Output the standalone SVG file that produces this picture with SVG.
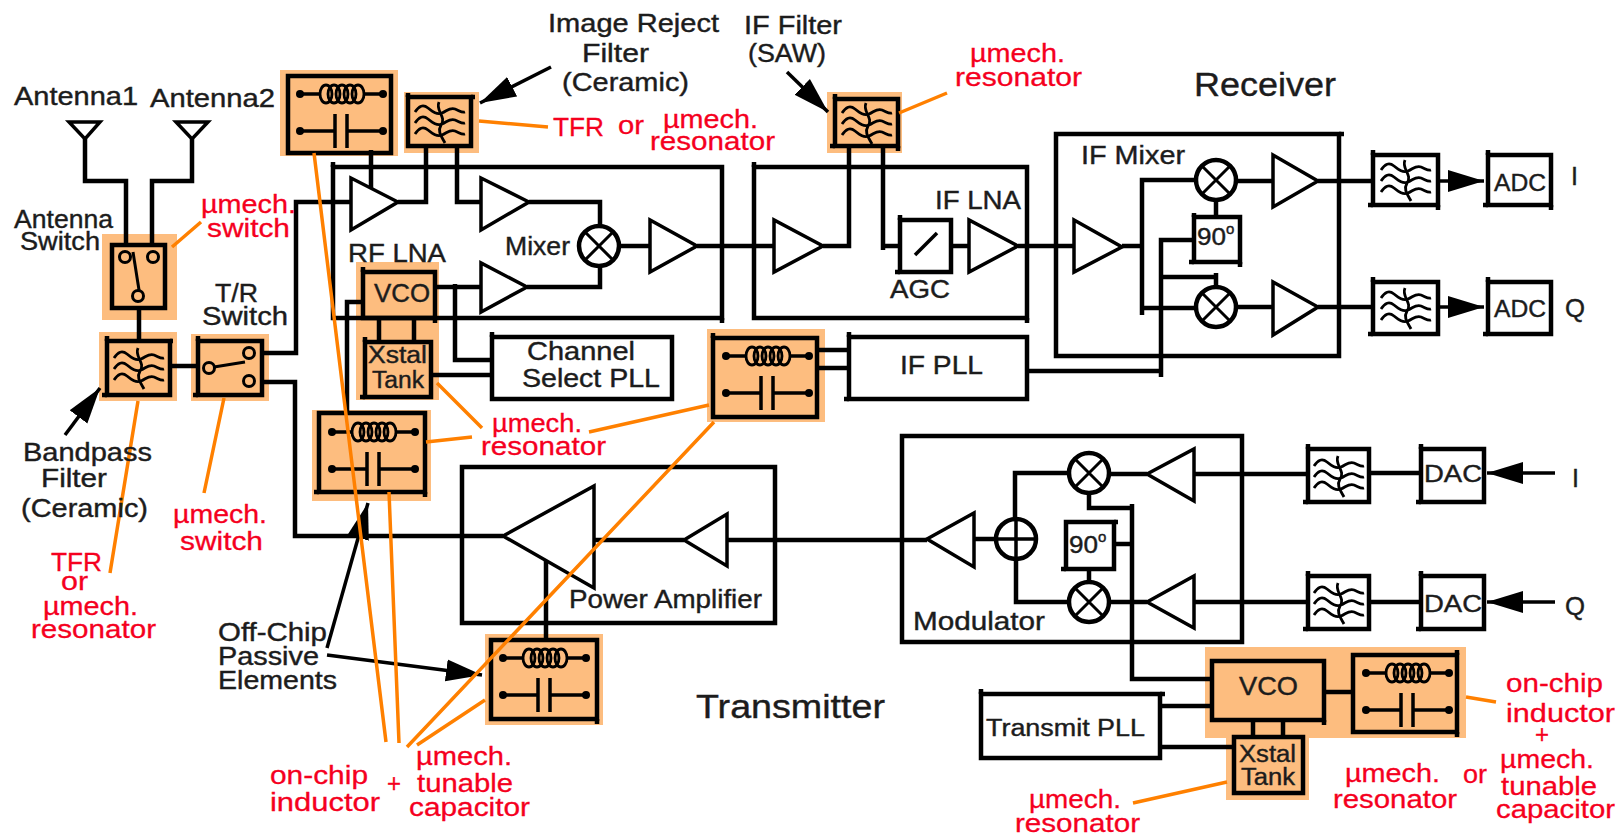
<svg xmlns="http://www.w3.org/2000/svg" width="1621" height="835" viewBox="0 0 1621 835">
<style>
.pad{fill:#fdbd7f;stroke:none}
.b{fill:none;stroke:#000;stroke-width:4.5;stroke-linejoin:miter}
.c{fill:none;stroke:#000;stroke-width:3}
.w{fill:#fff;stroke:#000;stroke-width:4.5}
.tri{fill:#fff;stroke:#000;stroke-width:3.5;stroke-linejoin:miter}
.ant{fill:none;stroke:#000;stroke-width:3.5}
.wire{fill:none;stroke:#000;stroke-width:4.5;stroke-linejoin:miter}
.thin{fill:none;stroke:#000;stroke-width:3}
.arr{fill:none;stroke:#000;stroke-width:3.5}
.lead{fill:none;stroke:#ff8000;stroke-width:3.5}
.sym{fill:none;stroke:#000;stroke-width:2.8}
.symw{fill:none;stroke:#000;stroke-width:3.5}
.dot{fill:#000}
text{font-family:"Liberation Sans",Arial,sans-serif;font-size:25px;fill:#1c1c1c;stroke:#1c1c1c;stroke-width:.4}
.r{fill:#f5001e;stroke:#f5001e;font-size:26px;stroke-width:.3}
.big{font-size:34px}
.s{font-size:23px}
.sup{font-size:15px}
</style>
<defs>
<marker id="ah" markerUnits="userSpaceOnUse" markerWidth="38" markerHeight="24" refX="36" refY="12" orient="auto"><path d="M0 1L36 12L0 23z" fill="#000"/></marker>
<g id="waves">
<path id="wave" class="sym" d="M7 15c4-6 8-8 13-4s9 7 14 5 8-6 13-4 7 4 10 3"/>
<use href="#wave" y="11"/><use href="#wave" y="22"/>
<path class="sym" d="M31 5C27 14 39 20 33 28 29 35 34 40 37 46"/>
</g>
<g id="lc">
<path class="symw" d="M12 18H32M76 18H95M12 55H47M59 55H95M47 38V72M59 38V72"/>
<circle class="dot" cx="12" cy="18" r="4"/><circle class="dot" cx="95" cy="18" r="4"/>
<circle class="dot" cx="12" cy="55" r="4"/><circle class="dot" cx="95" cy="55" r="4"/>
<ellipse class="sym" cx="38" cy="18" rx="6" ry="9"/><ellipse class="sym" cx="46" cy="18" rx="6" ry="9"/><ellipse class="sym" cx="54" cy="18" rx="6" ry="9"/><ellipse class="sym" cx="62" cy="18" rx="6" ry="9"/><ellipse class="sym" cx="70" cy="18" rx="6" ry="9"/>
</g>
<g id="mix"><circle class="w" r="20"/><path class="c" d="M-14-14L14 14M-14 14L14-14"/></g>
</defs>
<rect width="1621" height="835" fill="#fff"/>

<g id="pads">
<rect class="pad" x="102" y="234" width="75" height="86"/>
<rect class="pad" x="99" y="332" width="78" height="69"/>
<rect class="pad" x="191" y="334" width="78" height="67"/>
<rect class="pad" x="280" y="70" width="118" height="86"/>
<rect class="pad" x="404" y="92" width="75" height="61"/>
<rect class="pad" x="827" y="92" width="75" height="61"/>
<rect class="pad" x="356" y="262" width="83" height="138"/>
<rect class="pad" x="707" y="329" width="118" height="93"/>
<rect class="pad" x="312" y="410" width="119" height="91"/>
<rect class="pad" x="485" y="634" width="118" height="91"/>
<rect class="pad" x="1205" y="647" width="261" height="91"/>
<rect class="pad" x="1226" y="738" width="83" height="62"/>
</g>

<g id="connectors">
<path class="wire" d="M85 139V181H126V247M192 139V181H152V247M139 308V341M170 366H198"/>
<path class="wire" d="M262 353H296V202H350M262 382H295V536H503"/>
<path class="wire" d="M371 150V190M426 146V202H398M457 146V202H481"/>
<path class="wire" d="M529 202H600V226M435 287H481M527 287H600V266"/>
<path class="wire" d="M455 284V360H492M431 375H492M362 302H347V413M379 318V342M414 318V342"/>
<path class="wire" d="M619 246H650M697 246H774M823 246H849V146M883 146V250M883 246H900M951 246H969M1018 246H1074"/>
<path class="wire" d="M817 350H849M817 368H849M1027 371H1161"/>
<path class="wire" d="M1122 246H1142M1142 315V180H1196M1142 308H1196M1161 377V240H1194M1161 277H1216V273M1216 273V287M1216 200V217M1236 181H1273M1318 181H1373M1236 307H1273M1318 307H1373"/>
<path class="wire" d="M594 540H684M727 540H927M974 539H996M1015 519V473H1069M1016 559V602H1069M1109 474H1147M1109 602H1147M1194 474H1308M1194 602H1308"/>
<path class="wire" d="M1089 493V508H1132M1132 504V679H1212M1114 544H1132M1089 569V582M1369 473H1421M1369 602H1421"/>
<path class="wire" d="M546 560V640M1324 692H1353M1160 706H1212M1160 747H1234M1253 720V737M1283 720V737"/>
<path class="arr" d="M1438 181H1484" marker-end="url(#ah)"/>
<path class="arr" d="M1438 307H1484" marker-end="url(#ah)"/>
<path class="arr" d="M1555 473H1487" marker-end="url(#ah)"/>
<path class="arr" d="M1555 602H1487" marker-end="url(#ah)"/>
<path class="arr" d="M551 67L480 103" marker-end="url(#ah)"/>
<path class="arr" d="M787 72L828 112" marker-end="url(#ah)"/>
<path class="arr" d="M65 435L100 388" marker-end="url(#ah)"/>
<path class="arr" d="M327 648L368 503" marker-end="url(#ah)"/>
<path class="arr" d="M327 655L482 675" marker-end="url(#ah)"/>
</g>

<g id="antenna1"><path class="ant" d="M69 122H100L85 139z"/></g>
<g id="antenna2"><path class="ant" d="M176 122H208L192 139z"/></g>
<g id="antenna-switch"><rect class="b" x="112" y="245" width="53" height="63"/><circle class="c" cx="125" cy="257" r="5.5"/><circle class="c" cx="153" cy="257" r="5.5"/><circle class="c" cx="138" cy="296" r="5.5"/><path class="thin" d="M133 252L139 290"/></g>
<g id="bandpass-filter"><rect class="b" x="107" y="341" width="63" height="54"/><path class="wire" d="M107 336V341M102 395H107M170 341H173"/><use href="#waves" transform="translate(107,343)"/></g>
<g id="tr-switch"><rect class="b" x="198" y="341" width="64" height="54"/><path class="wire" d="M198 336V341M193 395H198"/><circle class="c" cx="209" cy="368" r="5.5"/><circle class="c" cx="249" cy="353" r="5.5"/><circle class="c" cx="249" cy="381" r="5.5"/><path class="thin" d="M214 367L245 362"/></g>
<g id="lc-top"><rect class="b" x="288" y="76" width="103" height="77"/><use href="#lc" transform="translate(288,76)"/></g>
<g id="image-filter"><rect class="b" x="408" y="97" width="63" height="49"/><path class="wire" d="M408 93V97M471 97H475"/><use href="#waves" transform="translate(408,97)"/></g>
<g id="if-filter"><rect class="b" x="835" y="99" width="63" height="47"/><path class="wire" d="M835 94V99M830 146H835M898 146V151"/><use href="#waves" transform="translate(835,98)"/></g>
<g id="rf-section"><rect class="b" x="333" y="167" width="389" height="151"/><path class="wire" d="M333 162V167M722 318V323"/></g>
<g id="if-section"><rect class="b" x="754" y="167" width="273" height="151"/><path class="wire" d="M754 162V167M1027 318V323"/></g>
<g id="rf-lna"><path class="tri" d="M351 178V230L398 202z"/></g>
<g id="amp-a"><path class="tri" d="M481 178V230L529 202z"/></g>
<g id="amp-b"><path class="tri" d="M481 263V312L527 287z"/></g>
<g id="mixer-rf"><use href="#mix" x="599" y="246"/></g>
<g id="amp-c"><path class="tri" d="M650 220V272L697 246z"/></g>
<g id="amp-d"><path class="tri" d="M774 220V272L823 246z"/></g>
<g id="agc"><rect class="w" x="900" y="220" width="51" height="52"/><path class="wire" d="M900 215V220M895 272H900"/><path class="symw" d="M915 255L937 233"/></g>
<g id="if-lna"><path class="tri" d="M969 220V272L1018 246z"/></g>
<g id="vco-rx"><rect class="b" x="363" y="272" width="72" height="46"/><path class="wire" d="M363 267V272M435 318V323"/></g>
<g id="xtal-rx"><rect class="b" x="365" y="342" width="66" height="55"/><path class="wire" d="M365 337V342M360 397H365"/></g>
<g id="channel-pll"><rect class="w" x="492" y="337" width="180" height="62"/><path class="wire" d="M492 332V337"/></g>
<g id="lc-mid"><rect class="b" x="713" y="338" width="104" height="79"/><path class="wire" d="M713 333V338"/><use href="#lc" transform="translate(714,338)"/></g>
<g id="if-pll"><rect class="w" x="849" y="337" width="178" height="62"/><path class="wire" d="M849 332V337M844 399H849"/></g>
<g id="if-mixer"><rect class="b" x="1056" y="134" width="283" height="222"/><path class="wire" d="M1339 134H1344"/><path class="tri" d="M1074 220V272L1122 247z"/><use href="#mix" x="1216" y="180"/><use href="#mix" x="1216" y="307"/><path class="tri" d="M1273 155V207L1318 181z"/><path class="tri" d="M1273 282V335L1318 307z"/><rect class="w" x="1194" y="217" width="46" height="45"/><path class="wire" d="M1194 213V217M1189 262H1194M1240 262V267"/></g>
<g id="filter-i"><rect class="b" x="1373" y="155" width="65" height="50"/><path class="wire" d="M1373 150V155M1368 205H1373M1438 205V210"/><use href="#waves" transform="translate(1374,155)"/></g>
<g id="filter-q"><rect class="b" x="1373" y="282" width="65" height="52"/><path class="wire" d="M1373 277V282M1368 334H1373"/><use href="#waves" transform="translate(1374,283)"/></g>
<g id="adc-i"><rect class="b" x="1488" y="155" width="63" height="50"/><path class="wire" d="M1488 150V155M1483 205H1488M1551 205V210"/></g>
<g id="adc-q"><rect class="b" x="1488" y="282" width="63" height="52"/><path class="wire" d="M1488 277V282M1483 334H1488"/></g>
<g id="lc-low"><rect class="b" x="319" y="413" width="106" height="79"/><path class="wire" d="M314 492H319M425 492V497"/><use href="#lc" transform="translate(320,414)"/></g>
<g id="pa-section"><rect class="b" x="462" y="467" width="313" height="156"/><path class="tri" d="M503 536L594 486V588z"/><path class="tri" d="M684 540L727 514V566z"/></g>
<g id="lc-pa"><rect class="b" x="491" y="640" width="106" height="79"/><path class="wire" d="M597 719V724"/><use href="#lc" transform="translate(491,640)"/></g>
<g id="modulator"><rect class="b" x="902" y="436" width="340" height="206"/><path class="tri" d="M927 539L974 513V567z"/><circle class="w" cx="1016" cy="539" r="20"/><path class="symw" d="M1016 519V559M996 539H1036"/><use href="#mix" x="1089" y="473"/><use href="#mix" x="1089" y="602"/><path class="tri" d="M1147 474L1194 449V501z"/><path class="tri" d="M1147 602L1194 576V628z"/><rect class="w" x="1066" y="522" width="48" height="47"/><path class="wire" d="M1061 569H1066M1114 522H1118"/></g>
<g id="filter-ti"><rect class="b" x="1308" y="449" width="61" height="53"/><path class="wire" d="M1308 444V449M1303 502H1308"/><use href="#waves" transform="translate(1307,451)"/></g>
<g id="filter-tq"><rect class="b" x="1308" y="576" width="61" height="53"/><path class="wire" d="M1308 571V576M1303 629H1308"/><use href="#waves" transform="translate(1307,578)"/></g>
<g id="dac-i"><rect class="b" x="1421" y="449" width="63" height="53"/><path class="wire" d="M1421 444V449M1416 502H1421"/></g>
<g id="dac-q"><rect class="b" x="1421" y="576" width="63" height="53"/><path class="wire" d="M1421 571V576M1416 629H1421"/></g>
<g id="vco-tx"><rect class="b" x="1212" y="661" width="112" height="59"/><path class="wire" d="M1324 720V725"/></g>
<g id="lc-tx"><rect class="b" x="1353" y="655" width="104" height="77"/><path class="wire" d="M1457 650V655M1457 732V737"/><use href="#lc" transform="translate(1354,655)"/></g>
<g id="transmit-pll"><rect class="w" x="981" y="694" width="179" height="64"/><path class="wire" d="M981 689V694M1160 694H1165"/></g>
<g id="xtal-tx"><rect class="b" x="1234" y="737" width="69" height="56"/></g>

<g id="leaders">
<path class="lead" d="M172 247L201 222M479 121L548 127M899 113L947 93M138 401L110 573M224 398L204 493"/>
<path class="lead" d="M314 153L386 742M389 492L399 743M714 422L407 747M485 700L417 745"/>
<path class="lead" d="M426 442L472 437M589 432L709 405M437 383L482 428M1227 782L1133 803M1466 697L1496 702"/>
</g>

<g id="labels">
<text x="14" y="105" textLength="124" lengthAdjust="spacingAndGlyphs">Antenna1</text>
<text x="150" y="107" textLength="125" lengthAdjust="spacingAndGlyphs">Antenna2</text>
<text x="14" y="228" textLength="99" lengthAdjust="spacingAndGlyphs">Antenna</text>
<text x="20" y="250" textLength="80" lengthAdjust="spacingAndGlyphs">Switch</text>
<text x="215" y="302" textLength="43" lengthAdjust="spacingAndGlyphs">T/R</text>
<text x="202" y="325" textLength="86" lengthAdjust="spacingAndGlyphs">Switch</text>
<text x="548" y="32" textLength="171" lengthAdjust="spacingAndGlyphs">Image Reject</text>
<text x="582" y="62" textLength="67" lengthAdjust="spacingAndGlyphs">Filter</text>
<text x="562" y="91" textLength="127" lengthAdjust="spacingAndGlyphs">(Ceramic)</text>
<text x="744" y="34" textLength="98" lengthAdjust="spacingAndGlyphs">IF Filter</text>
<text x="748" y="62" textLength="78" lengthAdjust="spacingAndGlyphs">(SAW)</text>
<text class="big" x="1194" y="96" textLength="142" lengthAdjust="spacingAndGlyphs">Receiver</text>
<text x="1081" y="164" textLength="104" lengthAdjust="spacingAndGlyphs">IF Mixer</text>
<text x="348" y="262" textLength="98" lengthAdjust="spacingAndGlyphs">RF LNA</text>
<text x="505" y="255" textLength="65" lengthAdjust="spacingAndGlyphs">Mixer</text>
<text x="374" y="302" textLength="56" lengthAdjust="spacingAndGlyphs">VCO</text>
<text class="s" x="368" y="363" textLength="59" lengthAdjust="spacingAndGlyphs">Xstal</text>
<text class="s" x="372" y="388" textLength="52" lengthAdjust="spacingAndGlyphs">Tank</text>
<text x="527" y="360" textLength="108" lengthAdjust="spacingAndGlyphs">Channel</text>
<text x="522" y="387" textLength="138" lengthAdjust="spacingAndGlyphs">Select PLL</text>
<text x="935" y="209" textLength="86" lengthAdjust="spacingAndGlyphs">IF LNA</text>
<text x="890" y="298" textLength="60" lengthAdjust="spacingAndGlyphs">AGC</text>
<text x="900" y="374" textLength="83" lengthAdjust="spacingAndGlyphs">IF PLL</text>
<text class="s" x="1197" y="245" textLength="29" lengthAdjust="spacingAndGlyphs">90</text><text class="sup" x="1226" y="234">o</text>
<text class="s" x="1494" y="191" textLength="52" lengthAdjust="spacingAndGlyphs">ADC</text>
<text class="s" x="1494" y="317" textLength="52" lengthAdjust="spacingAndGlyphs">ADC</text>
<text x="1571" y="185">I</text>
<text x="1565" y="317" textLength="20" lengthAdjust="spacingAndGlyphs">Q</text>
<text x="23" y="461" textLength="129" lengthAdjust="spacingAndGlyphs">Bandpass</text>
<text x="41" y="487" textLength="66" lengthAdjust="spacingAndGlyphs">Filter</text>
<text x="21" y="517" textLength="127" lengthAdjust="spacingAndGlyphs">(Ceramic)</text>
<text x="569" y="608" textLength="193" lengthAdjust="spacingAndGlyphs">Power Amplifier</text>
<text x="218" y="641" textLength="109" lengthAdjust="spacingAndGlyphs">Off-Chip</text>
<text x="218" y="665" textLength="101" lengthAdjust="spacingAndGlyphs">Passive</text>
<text x="218" y="689" textLength="119" lengthAdjust="spacingAndGlyphs">Elements</text>
<text class="big" x="696" y="718" textLength="189" lengthAdjust="spacingAndGlyphs">Transmitter</text>
<text x="913" y="630" textLength="132" lengthAdjust="spacingAndGlyphs">Modulator</text>
<text class="s" x="1069" y="553" textLength="29" lengthAdjust="spacingAndGlyphs">90</text><text class="sup" x="1098" y="542">o</text>
<text class="s" x="1424" y="482" textLength="58" lengthAdjust="spacingAndGlyphs">DAC</text>
<text class="s" x="1424" y="612" textLength="58" lengthAdjust="spacingAndGlyphs">DAC</text>
<text x="1572" y="487">I</text>
<text x="1565" y="615" textLength="20" lengthAdjust="spacingAndGlyphs">Q</text>
<text x="1239" y="695" textLength="59" lengthAdjust="spacingAndGlyphs">VCO</text>
<text class="s" x="986" y="736" textLength="159" lengthAdjust="spacingAndGlyphs">Transmit PLL</text>
<text class="s" x="1239" y="762" textLength="57" lengthAdjust="spacingAndGlyphs">Xstal</text>
<text class="s" x="1241" y="785" textLength="54" lengthAdjust="spacingAndGlyphs">Tank</text>

<text class="r" x="201" y="213" textLength="95" lengthAdjust="spacingAndGlyphs">µmech.</text>
<text class="r" x="207" y="237" textLength="83" lengthAdjust="spacingAndGlyphs">switch</text>
<text class="r" x="553" y="136" textLength="51" lengthAdjust="spacingAndGlyphs">TFR</text>
<text class="r" x="618" y="134" textLength="26" lengthAdjust="spacingAndGlyphs">or</text>
<text class="r" x="663" y="128" textLength="95" lengthAdjust="spacingAndGlyphs">µmech.</text>
<text class="r" x="650" y="150" textLength="125" lengthAdjust="spacingAndGlyphs">resonator</text>
<text class="r" x="970" y="62" textLength="95" lengthAdjust="spacingAndGlyphs">µmech.</text>
<text class="r" x="955" y="86" textLength="127" lengthAdjust="spacingAndGlyphs">resonator</text>
<text class="r" x="492" y="432" textLength="90" lengthAdjust="spacingAndGlyphs">µmech.</text>
<text class="r" x="481" y="455" textLength="125" lengthAdjust="spacingAndGlyphs">resonator</text>
<text class="r" x="173" y="523" textLength="94" lengthAdjust="spacingAndGlyphs">µmech.</text>
<text class="r" x="180" y="550" textLength="83" lengthAdjust="spacingAndGlyphs">switch</text>
<text class="r" x="51" y="571" textLength="51" lengthAdjust="spacingAndGlyphs">TFR</text>
<text class="r" x="61" y="590" textLength="27" lengthAdjust="spacingAndGlyphs">or</text>
<text class="r" x="43" y="615" textLength="95" lengthAdjust="spacingAndGlyphs">µmech.</text>
<text class="r" x="31" y="638" textLength="125" lengthAdjust="spacingAndGlyphs">resonator</text>
<text class="r" x="270" y="784" textLength="98" lengthAdjust="spacingAndGlyphs">on-chip</text>
<text class="r" x="270" y="811" textLength="110" lengthAdjust="spacingAndGlyphs">inductor</text>
<text class="r" x="387" y="792" textLength="14" lengthAdjust="spacingAndGlyphs">+</text>
<text class="r" x="416" y="765" textLength="96" lengthAdjust="spacingAndGlyphs">µmech.</text>
<text class="r" x="417" y="792" textLength="96" lengthAdjust="spacingAndGlyphs">tunable</text>
<text class="r" x="409" y="816" textLength="121" lengthAdjust="spacingAndGlyphs">capacitor</text>
<text class="r" x="1029" y="808" textLength="92" lengthAdjust="spacingAndGlyphs">µmech.</text>
<text class="r" x="1015" y="832" textLength="125" lengthAdjust="spacingAndGlyphs">resonator</text>
<text class="r" x="1345" y="782" textLength="95" lengthAdjust="spacingAndGlyphs">µmech.</text>
<text class="r" x="1333" y="808" textLength="124" lengthAdjust="spacingAndGlyphs">resonator</text>
<text class="r" x="1463" y="783" textLength="24" lengthAdjust="spacingAndGlyphs">or</text>
<text class="r" x="1506" y="692" textLength="97" lengthAdjust="spacingAndGlyphs">on-chip</text>
<text class="r" x="1506" y="722" textLength="109" lengthAdjust="spacingAndGlyphs">inductor</text>
<text class="r" x="1535" y="743" textLength="14" lengthAdjust="spacingAndGlyphs">+</text>
<text class="r" x="1500" y="768" textLength="94" lengthAdjust="spacingAndGlyphs">µmech.</text>
<text class="r" x="1501" y="795" textLength="96" lengthAdjust="spacingAndGlyphs">tunable</text>
<text class="r" x="1496" y="818" textLength="119" lengthAdjust="spacingAndGlyphs">capacitor</text>
</g>
</svg>
